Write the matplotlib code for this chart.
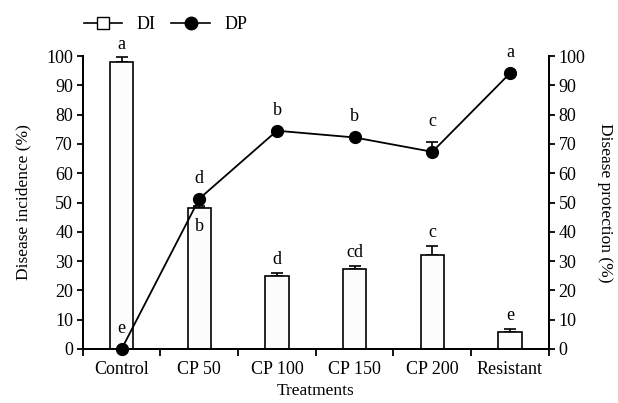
import numpy as np
import matplotlib
matplotlib.use('Agg')
import matplotlib.pyplot as plt
from matplotlib.lines import Line2D

plt.rcParams['font.family'] = ['Liberation Serif', 'DejaVu Serif']
plt.rcParams['font.size'] = 13

treatments = ['Control', 'CP 50', 'CP 100', 'CP 150', 'CP 200', 'Resistant']
di = [97.9, 48.2, 24.9, 27.3, 32.1, 5.7]
di_err = [1.6, 0.5, 1.0, 1.0, 3.2, 1.1]
di_letters = ['a', 'b', 'd', 'cd', 'c', 'e']
dp = [0.0, 51.3, 74.5, 72.2, 67.3, 94.1]
dp_err = [0, 0, 0, 0, 3.3, 0]
dp_letters = ['e', 'd', 'b', 'b', 'c', 'a']

x = np.arange(len(treatments))

fig = plt.figure(figsize=(6.18, 4.03), dpi=100)
ax = fig.add_axes([0.134, 0.134, 0.754, 0.727])
ax2 = ax.twinx()

ax.bar(x, di, width=0.30, color='#fcfcfc', edgecolor='black', linewidth=1.2, zorder=2)
ax.errorbar(x, di, yerr=[np.zeros(len(di)), di_err], fmt='none', ecolor='black',
            elinewidth=1.2, capsize=4, capthick=1.2, zorder=1)

ax2.errorbar(x, dp, yerr=[np.zeros(len(dp)), dp_err], fmt='none', ecolor='black',
             elinewidth=1.2, capsize=4, capthick=1.2, zorder=2)
ax2.plot(x, dp, color='black', lw=1.3, marker='o', ms=8.5, clip_on=False, zorder=3)

# letters for DI
for i in range(len(x)):
    if i == 1:
        ax.text(x[i], di[i] - 6.5, di_letters[i], ha='center', va='center', fontsize=13)
    else:
        ax.text(x[i], di[i] + di_err[i] + 4.5, di_letters[i], ha='center', va='center', fontsize=13)
# letters for DP
for i in range(len(x)):
    ax2.text(x[i], dp[i] + dp_err[i] + 7, dp_letters[i], ha='center', va='center', fontsize=13)

for a in (ax, ax2):
    a.set_ylim(0, 100)
    a.set_yticks(np.arange(0, 101, 10))
    a.spines['top'].set_visible(False)
    for s in a.spines.values():
        s.set_linewidth(1.3)
    a.tick_params(axis='y', length=4, width=1.3, labelsize=13, pad=3)

ax.set_xlim(-0.5, 5.5)
ax.set_xticks(np.arange(-0.5, 6, 1))
ax.set_xticklabels([])
ax.set_xticks(x, minor=True)
ax.set_xticklabels(treatments, minor=True, fontsize=13)
ax.tick_params(axis='x', which='major', length=5, width=1.3)
ax.tick_params(axis='x', which='minor', length=0, pad=9)

ax.set_xlabel('Treatments', fontsize=12.5, labelpad=3)
ax.set_ylabel('Disease incidence (%)', fontsize=12.5, labelpad=11)
ax2.set_ylabel('Disease protection (%)', fontsize=12.5, rotation=270, labelpad=20)

handles = [Line2D([], [], color='black', lw=1.2, marker='s', ms=8, mfc='white', mec='black'),
           Line2D([], [], color='black', lw=1.2, marker='o', ms=9, mfc='black')]
fig.legend(handles, ['DI', 'DP'], loc='upper left', bbox_to_anchor=(0.109, 1.0), ncol=2,
           frameon=False, fontsize=13, handlelength=2.15, columnspacing=0.85, handletextpad=0.8)

fig.savefig('out.png', dpi=100)
